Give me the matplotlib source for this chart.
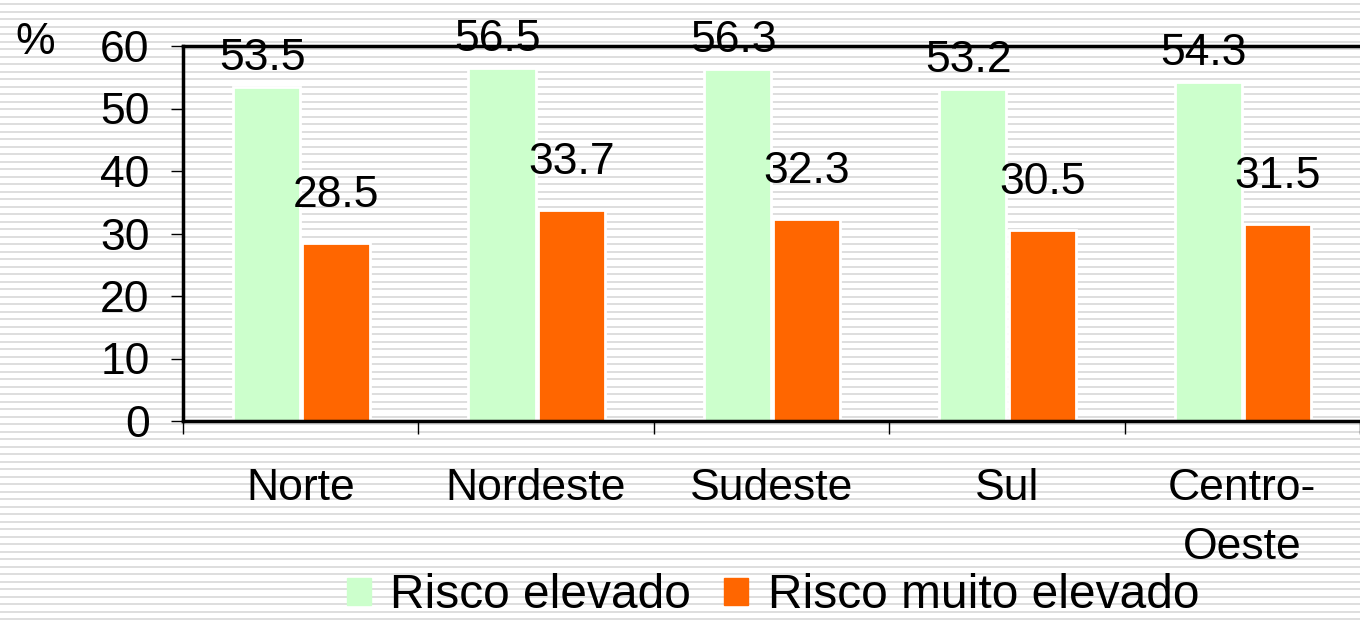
import numpy as np
import matplotlib
matplotlib.use("Agg")
import matplotlib.pyplot as plt

plt.rcParams['font.family'] = ['Liberation Sans', 'DejaVu Sans']

regions = ['Norte', 'Nordeste', 'Sudeste', 'Sul', 'Centro-\nOeste']
risco_elevado = [53.5, 56.5, 56.3, 53.2, 54.3]
risco_muito = [28.5, 33.7, 32.3, 30.5, 31.5]

green = '#ccffcc'
orange = '#ff6600'

W, H = 1360, 622
fig = plt.figure(figsize=(W / 100, H / 100), dpi=100)
fig.patch.set_facecolor('white')

# striped background (horizontal grey lines across the whole figure)
bg = fig.add_axes([0, 0, 1, 1], zorder=0)
bg.set_xlim(0, W)
bg.set_ylim(H, 0)
bg.axis('off')
for yy in np.arange(4, H, 7.5):
    bg.axhline(yy, color='#d9d9d9', lw=1.25)

ax = fig.add_axes([183 / W, 1 - 421 / H, 1 - 183 / W, (421 - 46) / H], zorder=1)
ax.set_facecolor('none')

x = np.arange(len(regions))
w = 0.285
g_off, o_off = -0.145, 0.15
ax.bar(x + g_off, risco_elevado, w, color=green, edgecolor='white', lw=2, zorder=2)
ax.bar(x + o_off, risco_muito, w, color=orange, edgecolor='white', lw=2, zorder=2)

fs = 32
for i in range(len(regions)):
    ax.annotate(f'{risco_elevado[i]:.1f}', (x[i] + g_off, risco_elevado[i]),
                xytext=(-3, 12), textcoords='offset points',
                ha='center', va='baseline', fontsize=fs, zorder=5, annotation_clip=False)
    ax.annotate(f'{risco_muito[i]:.1f}', (x[i] + o_off, risco_muito[i]),
                xytext=(0, 26), textcoords='offset points',
                ha='center', va='baseline', fontsize=fs, zorder=5, annotation_clip=False)

ax.set_xlim(-0.5, -0.5 + (W - 183) / 237.5)
ax.set_ylim(0, 60)
ax.set_yticks(range(0, 61, 10))
ax.tick_params(axis='y', labelsize=fs, length=9, width=1, pad=15, direction='out')

ax.set_xticks(np.arange(-0.5, 5, 1))
ax.set_xticklabels([])
ax.tick_params(axis='x', which='major', length=9, width=1, direction='out')
ax.set_xticks(x, minor=True)
ax.set_xticklabels(regions, minor=True, fontsize=fs, linespacing=1.55)
ax.tick_params(axis='x', which='minor', length=0, pad=34)

for s in ['left', 'bottom', 'top']:
    ax.spines[s].set_linewidth(2.5)
    ax.spines[s].set_color('black')
ax.spines['right'].set_visible(False)

fig.text(35 / W, 1 - 42 / H, '%', fontsize=fs, ha='center', va='center')

handles = [plt.Rectangle((0, 0), 1, 1, color=green), plt.Rectangle((0, 0), 1, 1, color=orange)]
fig.legend(handles, ['Risco elevado', 'Risco muito elevado'], loc='center',
           bbox_to_anchor=(773 / W, 1 - 596 / H), ncol=2, frameon=False,
           fontsize=34.5, handlelength=0.5, handleheight=0.5, handletextpad=0.4,
           columnspacing=0.7, borderpad=0)

fig.savefig('out.png', dpi=100)
